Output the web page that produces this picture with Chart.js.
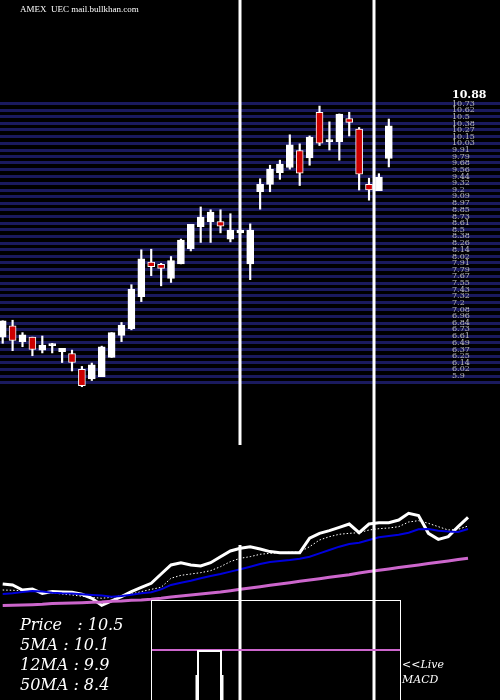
<!DOCTYPE html>
<html><head><meta charset="utf-8">
<script src="https://cdn.jsdelivr.net/npm/chart.js@4/dist/chart.umd.min.js"></script>
<style>
html,body{margin:0;padding:0;background:#000;width:500px;height:700px;overflow:hidden;position:relative}
canvas{position:absolute;left:0}
.t{position:absolute;color:#fff;font-family:"DejaVu Serif","Liberation Serif",serif;font-style:italic;white-space:pre}
</style></head><body>
<canvas id="c1" style="top:0px" width="500" height="445"></canvas>
<canvas id="c2" style="top:445px" width="500" height="255"></canvas>
<div class="t" style="left:20px;top:4px;font-size:9px;font-style:normal;font-family:'Liberation Serif',serif">AMEX  UEC mail.bullkhan.com</div>
<div class="t" style="left:20px;top:615px;font-size:16px">Price   : 10.5</div>
<div class="t" style="left:20px;top:635px;font-size:16px">5MA : 10.1</div>
<div class="t" style="left:20px;top:655px;font-size:16px">12MA : 9.9</div>
<div class="t" style="left:20px;top:675px;font-size:16px">50MA : 8.4</div>
<div class="t" style="left:402px;top:658px;font-size:11px">&lt;&lt;Live</div>
<div class="t" style="left:402px;top:673px;font-size:11px">MACD</div>
<script>
const opens =[6.59,6.79,6.51,6.59,6.36,6.44,6.33,6.30,6.02,5.85,5.89,6.23,6.62,6.74,7.31,7.92,7.88,7.63,7.89,8.16,8.55,8.64,8.64,8.33,8.44,7.89,9.17,9.30,9.51,9.60,9.90,9.77,10.58,10.06,10.06,10.47,10.28,9.30,9.19,9.76];
const closes=[6.88,6.53,6.63,6.37,6.45,6.45,6.39,6.14,5.73,6.10,6.42,6.67,6.80,7.44,7.98,7.84,7.81,7.95,8.31,8.59,8.72,8.81,8.56,8.49,8.49,8.49,9.30,9.57,9.66,10.00,9.50,10.14,10.03,10.07,10.55,10.40,9.48,9.20,9.43,10.34];
const highs =[6.88,6.89,6.67,6.59,6.61,6.48,6.39,6.36,6.07,6.13,6.43,6.67,6.85,7.52,8.14,8.15,7.90,8.02,8.33,8.59,8.90,8.85,8.85,8.78,8.49,8.60,9.40,9.64,9.73,10.18,10.02,10.16,10.69,10.41,10.55,10.58,10.31,9.41,9.49,10.46];
const lows  =[6.48,6.35,6.42,6.26,6.31,6.31,6.14,5.99,5.71,5.82,5.89,6.23,6.51,6.72,7.22,7.68,7.50,7.56,7.89,8.12,8.27,8.27,8.44,8.28,8.44,7.61,8.86,9.17,9.39,9.57,9.28,9.64,9.99,9.91,9.73,10.16,9.20,9.02,9.19,9.61];
const priceTicks=[10.88,10.73,10.62,10.5,10.38,10.27,10.15,10.03,9.91,9.79,9.68,9.56,9.44,9.32,9.2,9.09,8.97,8.85,8.73,8.61,8.5,8.38,8.26,8.14,8.02,7.91,7.79,7.67,7.55,7.43,7.32,7.2,7.08,6.96,6.84,6.73,6.61,6.49,6.37,6.25,6.14,6.02,5.9,5.78];
const priceLine=[3.7,3.63,3.25,3.33,3.0,3.13,3.1,3.08,2.93,2.63,2.1,2.43,2.75,3.13,3.45,3.75,4.45,5.13,5.3,5.13,5.05,5.3,5.75,6.18,6.38,6.5,6.33,6.13,6.05,6.05,6.05,7.13,7.5,7.7,7.95,8.2,7.55,8.2,8.3,8.3,8.5,9.0,8.83,7.5,7.05,7.25,8.0,8.7];
const ma5=[3.25,3.23,3.2,3.15,3.08,3.03,2.95,2.88,2.78,2.7,2.63,2.7,2.83,2.95,3.13,3.3,3.45,4.13,4.35,4.45,4.55,4.7,5.0,5.38,5.63,5.75,5.93,6.0,6.05,6.08,6.1,6.5,7.0,7.25,7.43,7.5,7.55,7.75,7.85,7.9,8.0,8.35,8.45,8.25,8.0,7.75,7.8,8.05];
const ma12=[2.95,3.0,3.1,3.18,3.13,3.05,3.0,2.98,2.93,2.88,2.83,2.75,2.8,2.9,3.0,3.08,3.3,3.63,3.8,3.95,4.13,4.3,4.45,4.63,4.8,5.0,5.2,5.35,5.43,5.5,5.6,5.75,6.0,6.25,6.5,6.7,6.8,7.0,7.2,7.3,7.4,7.55,7.8,7.83,7.7,7.63,7.6,7.83];
const ma50=[2.08,2.1,2.13,2.15,2.18,2.23,2.25,2.28,2.3,2.33,2.35,2.4,2.43,2.48,2.5,2.55,2.63,2.73,2.8,2.88,2.95,3.03,3.1,3.2,3.3,3.4,3.5,3.6,3.7,3.8,3.9,4.0,4.1,4.2,4.3,4.4,4.53,4.63,4.73,4.83,4.93,5.03,5.13,5.23,5.33,5.43,5.53,5.63];

const XMIN=-0.273, XMAX=50.23;
const bodies=opens.map((o,i)=>({x:i,y:[Math.min(o,closes[i]),Math.max(o,closes[i])]}));
const wicks=opens.map((o,i)=>({x:i,y:[lows[i],highs[i]]}));
const bodyCol=opens.map((o,i)=>closes[i]>=o?'#fff':'#cc0000');

const vlines={id:'vl',afterDraw(c,a,o){const ctx=c.ctx;ctx.save();ctx.strokeStyle='#fff';ctx.lineWidth=3;
  for(const s of o.segs){ctx.beginPath();ctx.moveTo(s[0],s[1]);ctx.lineTo(s[0],s[2]);ctx.stroke();}
  if(o.box){const b=o.box;ctx.lineWidth=1;ctx.strokeRect(151.5,b+0.5,249,100);ctx.strokeStyle='#cc66cc';ctx.lineWidth=2;ctx.beginPath();ctx.moveTo(152,b+50);ctx.lineTo(400,b+50);ctx.stroke();
    ctx.strokeStyle='#fff';ctx.lineWidth=2;ctx.beginPath();ctx.moveTo(198,b+100);ctx.lineTo(198,b+51);ctx.lineTo(221,b+51);ctx.lineTo(221,b+100);ctx.stroke();
    ctx.lineWidth=3;ctx.beginPath();ctx.moveTo(197,b+75);ctx.lineTo(197,b+100);ctx.moveTo(222,b+75);ctx.lineTo(222,b+100);ctx.stroke();}
  ctx.restore();}};

new Chart(document.getElementById('c1'),{type:'bar',
 data:{datasets:[
  {data:wicks,backgroundColor:'#fff',barThickness:1.5,grouped:false,order:2},
  {data:bodies,backgroundColor:bodyCol,borderColor:'#fff',borderWidth:1,borderSkipped:false,barThickness:7,grouped:false,order:1,minBarLength:2}
 ]},
 options:{responsive:false,animation:false,layout:{padding:0},
  plugins:{legend:{display:false},tooltip:{enabled:false},vl:{segs:[[240,0,445],[374,0,445]]}},
  scales:{x:{type:'linear',offset:false,min:XMIN,max:XMAX,display:false},
   y:{position:'left',min:4.676,max:12.572,border:{display:false},
    afterFit:s=>{s.width=0;s.paddingTop=0;s.paddingBottom=0;s.paddingLeft=0;s.paddingRight=0;},
    afterBuildTicks:s=>{s.ticks=priceTicks.map(v=>({value:v}));},
    grid:{drawTicks:false,lineWidth:3,color:ctx=>ctx.tick&&ctx.tick.value===10.88?'rgba(0,0,0,0)':'#1a1a5e'},
    ticks:{mirror:true,padding:452,color:ctx=>ctx.tick.value===10.88?'#fff':'#bbbbbb',
     font:ctx=>ctx.tick&&ctx.tick.value===10.88?{size:11,weight:'bold',family:'DejaVu Serif'}:{size:8,family:'DejaVu Serif'},
     callback:(v)=>v===5.78?'':String(v),autoSkip:false}}}},
 plugins:[vlines]});

const pts=a=>a.map((v,i)=>({x:i,y:v}));
new Chart(document.getElementById('c2'),{type:'line',
 data:{datasets:[
  {data:pts(ma50),borderColor:'#cc66cc',borderWidth:3,pointRadius:0},
  {data:pts(ma12),borderColor:'#0000dd',borderWidth:2,pointRadius:0},
  {data:pts(ma5),borderColor:'#fff',borderWidth:1,borderDash:[1.5,2],pointRadius:0},
  {data:pts(priceLine),borderColor:'#fff',borderWidth:3,pointRadius:0}
 ]},
 options:{responsive:false,animation:false,layout:{padding:0},
  plugins:{legend:{display:false},tooltip:{enabled:false},vl:{segs:[[240,100,255],[374,0,255]],box:155}},
  scales:{x:{type:'linear',min:XMIN,max:XMAX,display:false},y:{min:-5,max:14.125,display:false}}},
 plugins:[vlines]});
</script></body></html>
